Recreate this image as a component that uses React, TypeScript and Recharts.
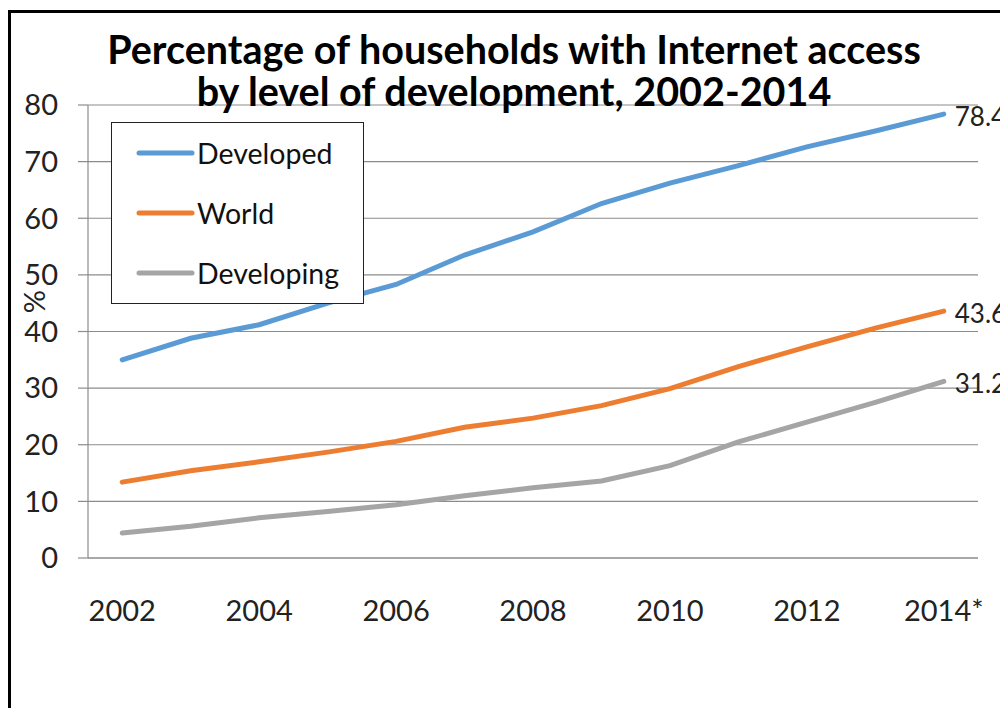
import { CartesianGrid, Legend, Line, LineChart, XAxis, YAxis } from "recharts";

const years = [2002, 2003, 2004, 2005, 2006, 2007, 2008, 2009, 2010, 2011, 2012, 2013, 2014];
const developed = [35.0, 38.8, 41.2, 45.0, 48.3, 53.5, 57.6, 62.6, 66.2, 69.3, 72.6, 75.4, 78.4];
const world = [13.4, 15.4, 17.0, 18.7, 20.6, 23.1, 24.7, 26.9, 29.9, 33.8, 37.3, 40.6, 43.6];
const developing = [4.4, 5.6, 7.1, 8.2, 9.4, 11.0, 12.4, 13.6, 16.3, 20.5, 24.0, 27.5, 31.2];

const seriesNames = ["Developed", "World", "Developing"];
const yTicks = [0, 10, 20, 30, 40, 50, 60, 70, 80];
const labelYears = [2002, 2004, 2006, 2008, 2010, 2012, 2014];
const labelText = ["2002", "2004", "2006", "2008", "2010", "2012", "2014*"];
const boundTicks = [2001.5, 2002.5, 2003.5, 2004.5, 2005.5, 2006.5, 2007.5, 2008.5, 2009.5, 2010.5, 2011.5, 2012.5, 2013.5, 2014.5];

const data = years.map((year, i) => ({
  year,
  developed: developed[i],
  world: world[i],
  developing: developing[i],
}));

const FONT = "Lato, 'Open Sans', sans-serif";
const GRID = "#8c8c8c";
const TICK_SIZE = 29;

// value shown at the right end of each line only
function endLabel(props: any) {
  const { x, y, value, index } = props;
  if (index !== years.length - 1) return null;
  return (
    <text x={x + 11} y={y + 2} dominantBaseline="central" fontSize={26} fontFamily={FONT} fill="#222">
      {value}
    </text>
  );
}

function LegendBox(props: any) {
  const items = [...(props.payload || [])].sort(
    (a: any, b: any) => seriesNames.indexOf(a.value) - seriesNames.indexOf(b.value)
  );
  return (
    <div
      style={{
        width: 251,
        border: "1.5px solid #222",
        background: "#fff",
        fontFamily: FONT,
        fontSize: 28.5,
        color: "#111",
      }}
    >
      {items.map((entry: any) => (
        <div key={entry.value} style={{ height: 60, display: "flex", alignItems: "center" }}>
          <svg width={85} height={10} style={{ flexShrink: 0 }}>
            <line x1={27} y1={5} x2={80} y2={5} stroke={entry.color} strokeWidth={5} strokeLinecap="round" />
          </svg>
          <span>{entry.value}</span>
        </div>
      ))}
    </div>
  );
}

export default function App() {
  return (
    <div
      style={{
        position: "relative",
        marginTop: 2,
        width: 997,
        height: 695,
        borderLeft: "3px solid #000",
        borderTop: "3px solid #000",
        overflow: "hidden",
        background: "#fff",
      }}
    >
      <div
        style={{
          position: "absolute",
          left: 0,
          top: 15,
          width: 1006,
          textAlign: "center",
          fontFamily: FONT,
          fontWeight: 700,
          fontSize: 39.5,
          lineHeight: "42px",
          color: "#000",
          zIndex: 2,
        }}
      >
        Percentage of households with Internet access
        <br />
        by level of development, 2002-2014
      </div>
      <LineChart width={997} height={695} data={data} margin={{ top: 92, right: 30, bottom: 80, left: 0 }}>
        <CartesianGrid vertical={false} stroke={GRID} strokeWidth={1.2} />
        <XAxis
          xAxisId="bounds"
          type="number"
          dataKey="year"
          domain={[2001.5, 2014.5]}
          ticks={boundTicks}
          tick={false}
          tickSize={10}
          height={10}
          stroke={GRID}
          strokeWidth={1.2}
        />
        <XAxis
          xAxisId="years"
          type="number"
          dataKey="year"
          domain={[2001.5, 2014.5]}
          ticks={labelYears}
          tickFormatter={(v: number) => labelText[labelYears.indexOf(v)]}
          axisLine={false}
          tickLine={false}
          tickSize={0}
          tickMargin={32}
          height={60}
          interval={0}
          tick={{ fontSize: TICK_SIZE, fontFamily: FONT, fill: "#222" }}
        />
        <YAxis
          domain={[0, 80]}
          ticks={yTicks}
          width={77}
          tickSize={10}
          tickMargin={20}
          interval={0}
          stroke={GRID}
          strokeWidth={1.2}
          tick={{ fontSize: TICK_SIZE, fontFamily: FONT, fill: "#222" }}
          label={{
            content: (p: any) => (
              <text
                x={22}
                y={p.viewBox.y + p.viewBox.height / 2 - 30}
                transform={`rotate(-90 22 ${p.viewBox.y + p.viewBox.height / 2 - 30})`}
                textAnchor="middle"
                dominantBaseline="central"
                fontSize={TICK_SIZE}
                fontFamily={FONT}
                fill="#222"
              >
                %
              </text>
            ),
          }}
        />
        <Legend
          layout="vertical"
          align="center"
          verticalAlign="middle"
          content={<LegendBox />}
          wrapperStyle={{ left: 100, top: 109, width: 254 }}
        />
        <Line
          xAxisId="years"
          dataKey="developed"
          name="Developed"
          stroke="#5B9BD5"
          strokeWidth={5}
          strokeLinecap="round"
          dot={false}
          activeDot={false}
          label={endLabel}
          isAnimationActive={false}
        />
        <Line
          xAxisId="years"
          dataKey="world"
          name="World"
          stroke="#ED7D31"
          strokeWidth={5}
          strokeLinecap="round"
          dot={false}
          activeDot={false}
          label={endLabel}
          isAnimationActive={false}
        />
        <Line
          xAxisId="years"
          dataKey="developing"
          name="Developing"
          stroke="#A5A5A5"
          strokeWidth={5}
          strokeLinecap="round"
          dot={false}
          activeDot={false}
          label={endLabel}
          isAnimationActive={false}
        />
      </LineChart>
    </div>
  );
}
